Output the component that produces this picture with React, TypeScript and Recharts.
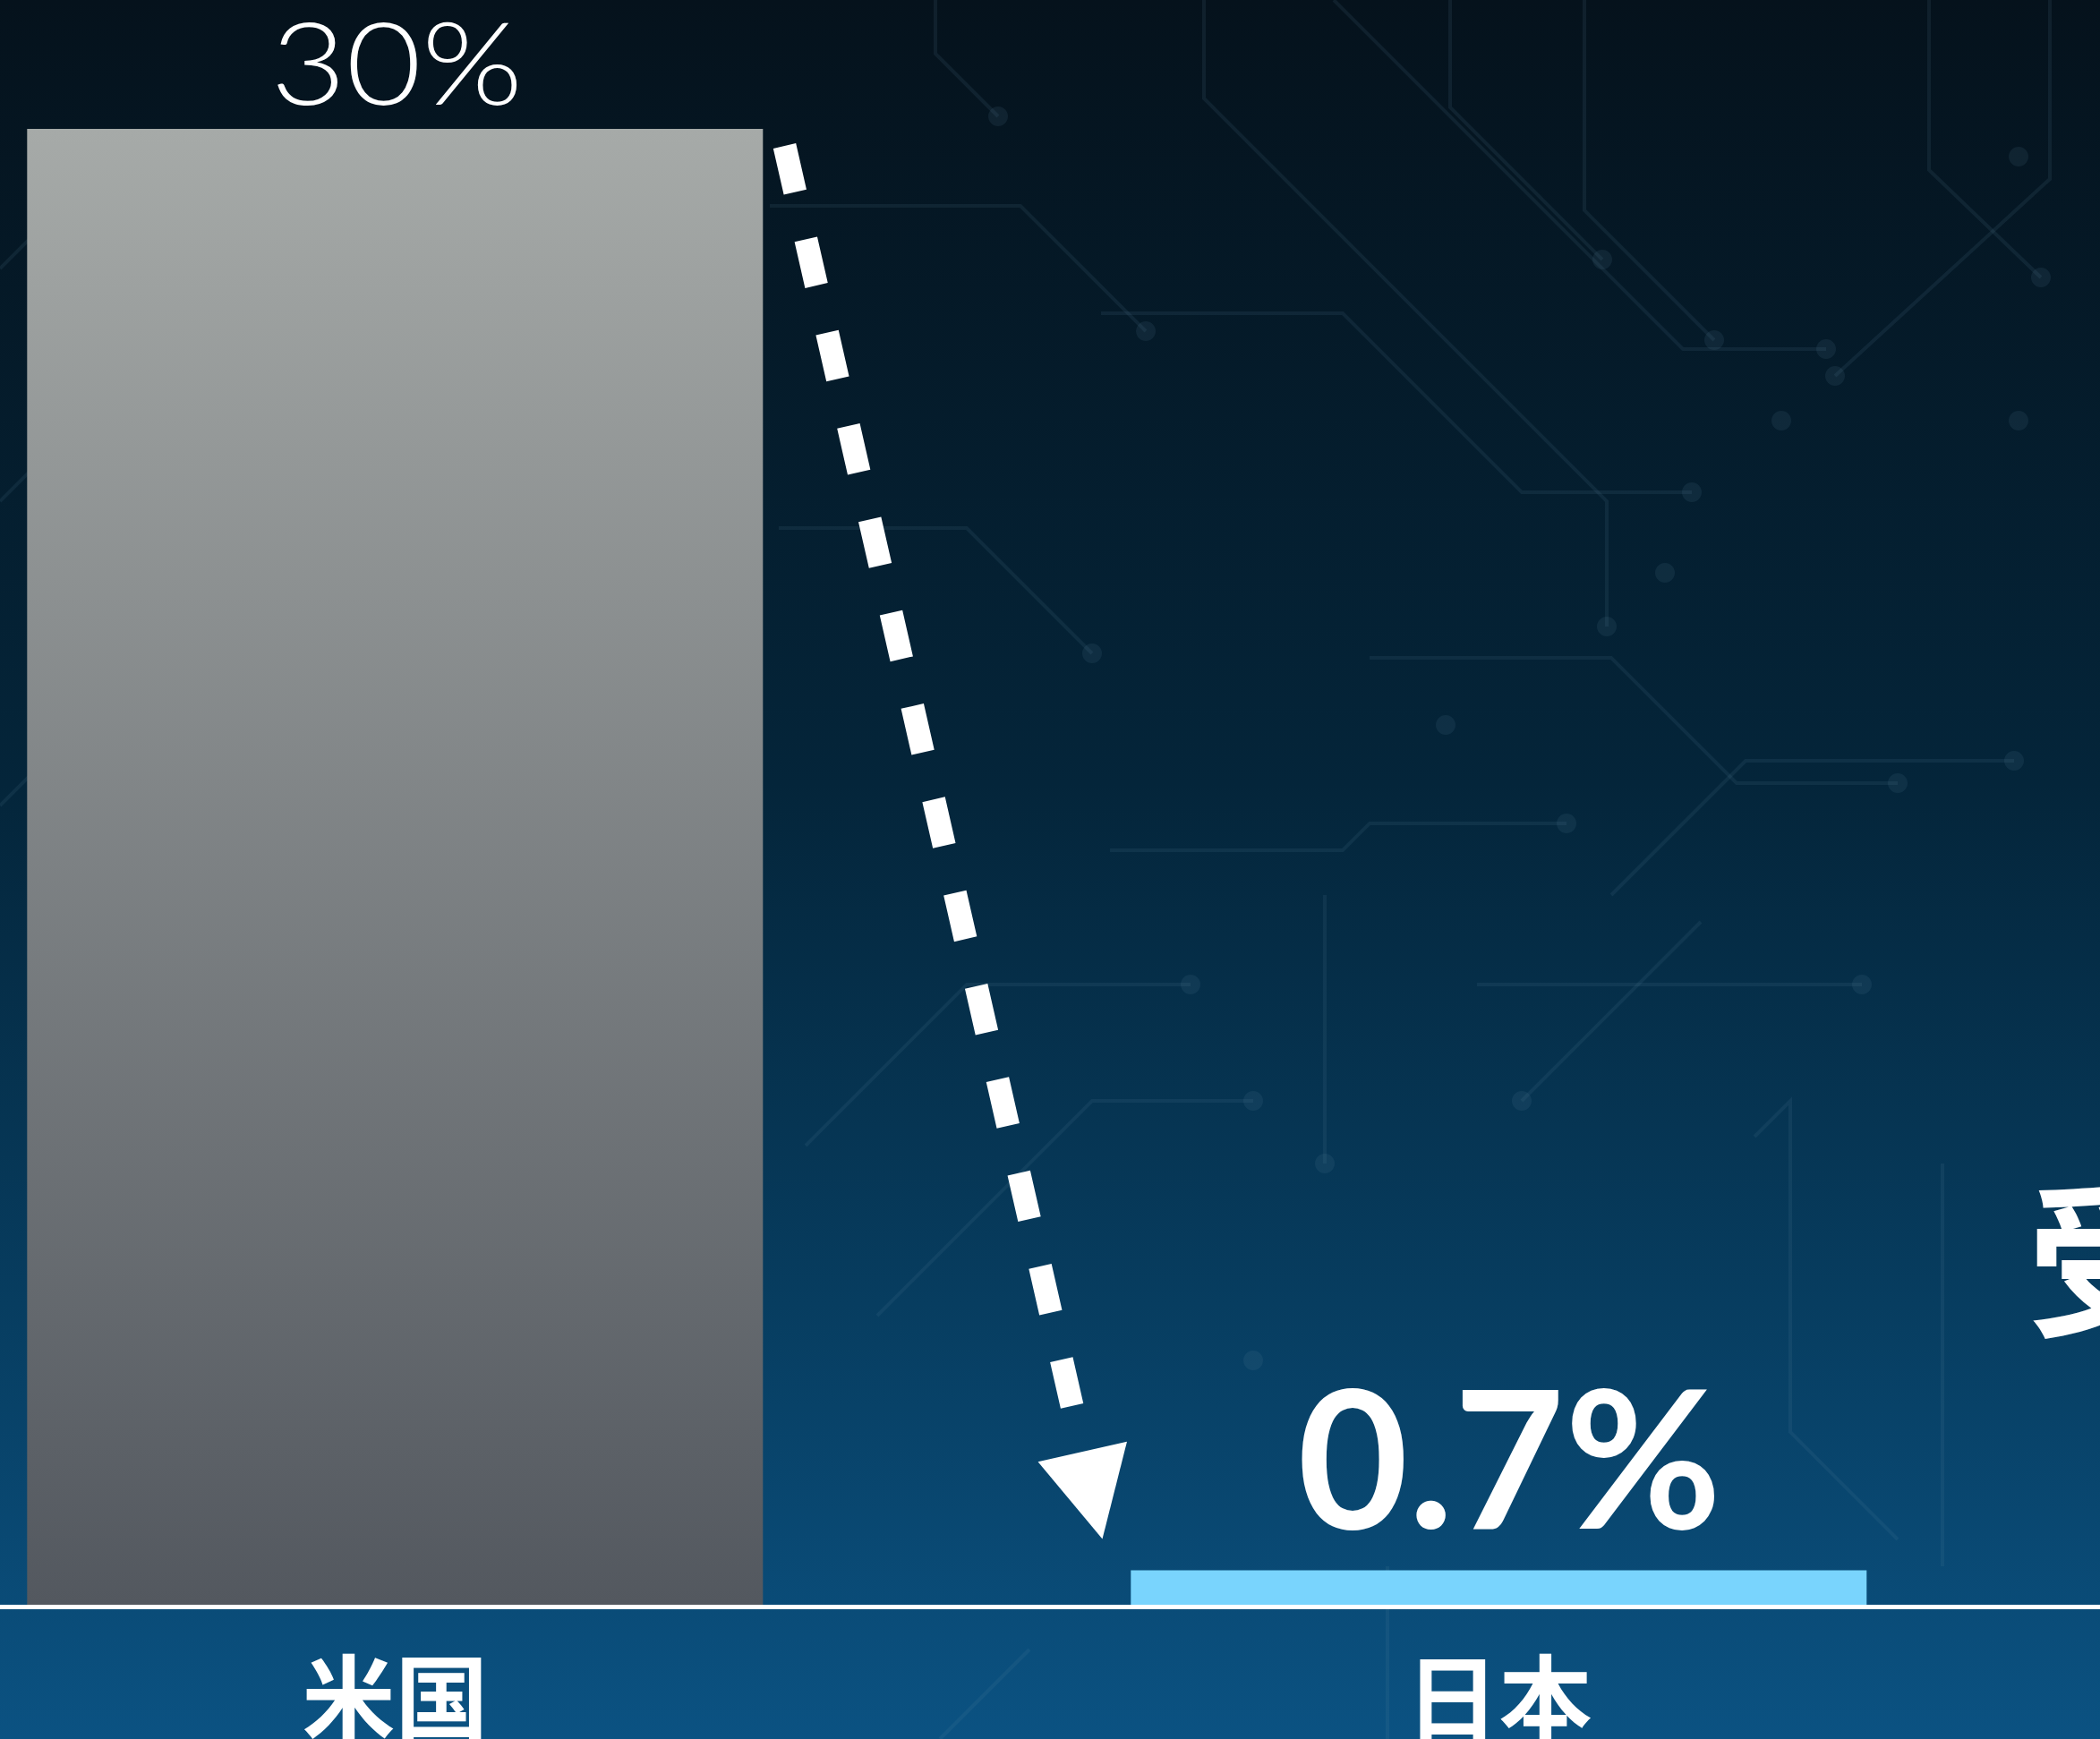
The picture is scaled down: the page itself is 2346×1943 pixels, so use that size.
import { BarChart, Bar, XAxis, YAxis, Cell, LabelList, ReferenceLine } from "recharts";

// data
const categories = ["米国", "日本"];
const shares = [30, 0.7];
const shareLabels = ["30%", "0.7%"];
const barColors = ["url(#usBarGrad)", "#79d4fd"];

const data = categories.map((name, i) => ({
  name,
  share: shares[i],
  label: shareLabels[i],
}));

const PAGE_W = 2346;
const PAGE_H = 1943;
const CHART_LEFT = -175;
const CHART_W = 2600;

// faint circuit traces for the backdrop
const traces = [
  "M1345 0 L1345 110 L1795 560 L1795 700",
  "M1045 0 L1045 60 L1115 130",
  "M1770 0 L1770 235 L1915 380",
  "M1490 0 L1880 390 L2040 390",
  "M1620 0 L1620 120 L1790 290",
  "M2155 0 L2155 190 L2280 310",
  "M2290 0 L2290 200 L2050 420",
  "M1230 350 L1500 350 L1700 550 L1890 550",
  "M1530 735 L1800 735 L1940 875 L2120 875",
  "M1240 950 L1500 950 L1530 920 L1750 920",
  "M1650 1100 L2080 1100",
  "M1800 1000 L1950 850 L2250 850",
  "M860 230 L1140 230 L1280 370",
  "M870 590 L1080 590 L1220 730",
  "M900 1280 L1080 1100 L1330 1100",
  "M980 1470 L1220 1230 L1400 1230",
  "M1700 1230 L1900 1030",
  "M0 300 L140 160",
  "M0 560 L200 360",
  "M0 900 L260 640",
  "M1960 1270 L2000 1230 L2000 1600 L2120 1720",
  "M2170 1300 L2170 1750",
  "M1480 1000 L1480 1300",
  "M1550 1750 L1550 1943",
  "M1050 1943 L1150 1843",
];

const dots = [
  [1115, 130], [1795, 700], [1915, 380], [2040, 390], [1790, 290], [2280, 310],
  [2050, 420], [1890, 550], [2120, 875], [1750, 920], [2080, 1100], [2250, 850],
  [1280, 370], [1220, 730], [1330, 1100], [1400, 1230], [1700, 1230], [1480, 1300],
  [1400, 1520], [1860, 640], [1990, 470], [2255, 175], [2255, 470], [1615, 810],
];

function CategoryTick(props: any) {
  const { x, y, payload } = props;
  return (
    <text
      x={x}
      y={Number(y) + 144}
      textAnchor="middle"
      fill="#ffffff"
      fontSize={104}
      fontWeight={700}
      fontFamily='"Noto Sans CJK JP", sans-serif'
    >
      {payload.value}
    </text>
  );
}

function ValueLabel(props: any) {
  const { x, y, width, value, index } = props;
  const cx = Number(x) + Number(width) / 2;
  if (index === 0) {
    return (
      <text
        x={cx + 2}
        y={Number(y) - 27}
        textAnchor="middle"
        fill="#ffffff"
        fontSize={128}
        fontWeight={300}
        fontFamily="Lato, sans-serif"
        textLength={282}
        lengthAdjust="spacingAndGlyphs"
      >
        {value}
      </text>
    );
  }
  return (
    <text
      x={cx + 12}
      y={Number(y) - 47}
      textAnchor="middle"
      fill="#ffffff"
      fontSize={215}
      fontWeight={700}
      fontFamily="Lato, sans-serif"
      textLength={474}
      lengthAdjust="spacingAndGlyphs"
    >
      {value}
    </text>
  );
}

// dashed arrow from the top of the US bar down to the Japan bar
function DashedArrow(props: any) {
  const { x1, y1, x2, y2 } = props;
  const sx = x1 + 435;
  const sy = y1 + 19;
  const tx = x2 - 443;
  const ty = y2 - 35;
  const len = Math.hypot(tx - sx, ty - sy);
  const ux = (tx - sx) / len;
  const uy = (ty - sy) / len;
  const head = 100;
  const half = 51;
  const bx = tx - ux * head;
  const by = ty - uy * head;
  const px = -uy;
  const py = ux;
  return (
    <g>
      <line
        x1={sx}
        y1={sy}
        x2={bx}
        y2={by}
        stroke="#ffffff"
        strokeWidth={26}
        strokeDasharray="53 54"
      />
      <polygon
        points={`${tx},${ty} ${bx + px * half},${by + py * half} ${bx - px * half},${by - py * half}`}
        fill="#ffffff"
      />
    </g>
  );
}

export default function App() {
  return (
    <div
      style={{
        position: "fixed",
        left: 0,
        top: 0,
        width: PAGE_W,
        height: PAGE_H,
        overflow: "hidden",
        background: "linear-gradient(180deg, #05121c 0%, #04253a 45%, #073d60 75%, #0b5282 100%)",
      }}
    >
      <svg width={PAGE_W} height={PAGE_H} style={{ position: "absolute", left: 0, top: 0 }}>
        {traces.map((d, i) => (
          <path key={i} d={d} fill="none" stroke="#5f8aa8" strokeOpacity={0.12} strokeWidth={4} />
        ))}
        {dots.map(([cx, cy], i) => (
          <circle key={i} cx={cx} cy={cy} r={11} fill="#5f8aa8" fillOpacity={0.12} />
        ))}
      </svg>

      <div style={{ position: "absolute", left: CHART_LEFT, top: 0 }}>
        <BarChart
          width={CHART_W}
          height={PAGE_H}
          data={data}
          margin={{ top: 144, right: 0, bottom: 0, left: 0 }}
          barCategoryGap="16.65%"
        >
          <defs>
            <linearGradient id="usBarGrad" x1="0" y1="0" x2="0" y2="1">
              <stop offset="0%" stopColor="#a6aaa8" />
              <stop offset="100%" stopColor="#53585f" />
            </linearGradient>
          </defs>
          <YAxis hide domain={[0, 30]} />
          <Bar dataKey="share" isAnimationActive={false}>
            {data.map((_, i) => (
              <Cell key={`cell-${i}`} fill={barColors[i % barColors.length]} />
            ))}
            <LabelList dataKey="label" content={<ValueLabel />} />
          </Bar>
          <XAxis
            dataKey="name"
            height={150}
            padding={{ left: 0, right: CHART_W - 2466 }}
            tickLine={false}
            tickSize={0}
            tickMargin={0}
            axisLine={{ stroke: "#ffffff", strokeWidth: 5, transform: "translate(0,2.5)" }}
            tick={<CategoryTick />}
            interval={0}
          />
          <ReferenceLine
            segment={[
              { x: categories[0], y: shares[0] },
              { x: categories[1], y: shares[1] },
            ]}
            shape={(p: any) => <DashedArrow {...p} />}
          />
        </BarChart>
      </div>

      <svg width={PAGE_W} height={PAGE_H} style={{ position: "absolute", left: 0, top: 0, pointerEvents: "none" }}>
        <text
          x={2264}
          y={1480}
          fill="#ffffff"
          fontSize={190}
          fontWeight={700}
          fontFamily='"Noto Sans CJK JP", sans-serif'
        >
          受
        </text>
      </svg>
    </div>
  );
}
